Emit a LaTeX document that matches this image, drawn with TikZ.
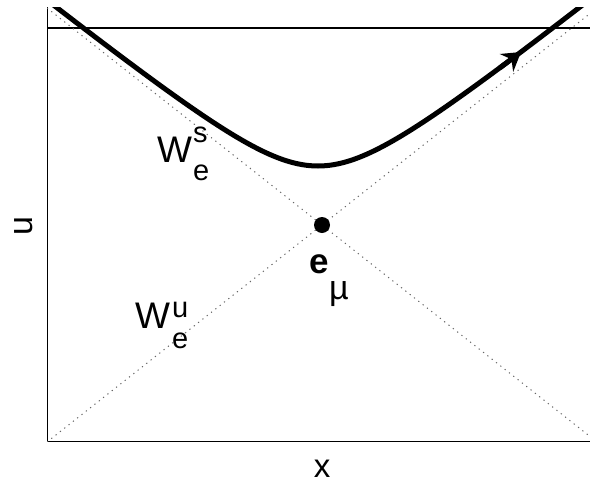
\documentclass[tikz,border=0pt]{standalone}
\usepackage{fontspec}
\setmainfont{Liberation Sans}
\usetikzlibrary{arrows.meta}
\tikzset{
  axisline/.style={line width=1pt, black},
  manifold/.style={line width=1pt, black!60, dash pattern=on 1.2pt off 4.3pt},
  orbit/.style={line width=5pt, black, line join=round},
  lbl/.style={anchor=base west, inner sep=0pt, outer sep=0pt},
}
\newcommand{\fsz}[1]{\fontsize{#1}{#1}\selectfont}
\begin{document}
\begin{tikzpicture}[x=1pt,y=-1pt]
\useasboundingbox (0,0) rectangle (590,488);
% axes
\draw[axisline] (47,7) -- (47,441) -- (597,441);
% horizontal line
\draw[line width=2pt] (47,28) -- (597,28);
\begin{scope}
  \clip (47,7) rectangle (597,441);
  \draw[manifold] (47,442) -- (597,8);
  \draw[manifold] (47,8) -- (597,442);
  \draw[orbit] plot[domain=-285:285, samples=141, smooth]
    ({318+\x}, {166 + 58.6 - 10*sqrt(34.34 + 0.64*(\x/10)*(\x/10))});
  \draw[line width=5pt, -{Stealth[length=18pt,width=22pt,inset=6pt]}] (500,67.8) -- (521,52);
\end{scope}
% equilibrium
\fill (322,225) circle (8);
% labels
\node[lbl, font=\fsz{37}] (Ws) at (157,162) {W};
\node[lbl, font=\fsz{29}] (Wss) at (193,142) {s};
\node[lbl, font=\fsz{29}] (Wse) at (193,180) {e};
\node[lbl, font=\fsz{37}] (Wu) at (135,328) {W};
\node[lbl, font=\fsz{29}] (Wuu) at (172,317) {u};
\node[lbl, font=\fsz{29}] (Wue) at (172,348) {e};
\node[lbl, font=\fsz{35}\bfseries] (em) at (309,273) {e};
\node[lbl, font=\fsz{34}] (mu) at (329,299) {µ};
\node[anchor=base, inner sep=0pt, font=\fsz{33}] (xl) at (322,477) {x};
\node[anchor=base, inner sep=0pt, rotate=90, font=\fsz{34}] (ul) at (32,226.5) {u};
\end{tikzpicture}
\end{document}
